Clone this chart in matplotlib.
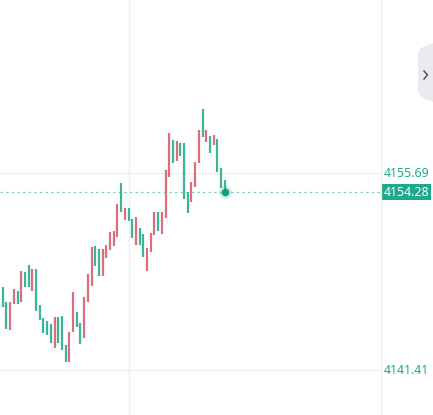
import matplotlib.pyplot as plt
import numpy as np
from matplotlib.patches import Rectangle, Polygon
from matplotlib.transforms import blended_transform_factory

# bar data (open / close)
opens = [4147.41, 4146.36, 4144.31, 4146.19, 4147.16, 4146.36, 4148.51, 4149.02, 4147.16, 4148.73,
         4146.12, 4145.18, 4144.98, 4144.75, 4143.01, 4145.27, 4145.32, 4143.22, 4142.01, 4144.19,
         4145.61, 4144.84, 4143.75, 4146.34, 4147.52, 4150.42, 4150.18, 4148.25, 4149.53, 4150.11,
         4150.42, 4151.05, 4154.99, 4152.28, 4153.15, 4152.36, 4150.47, 4151.70, 4151.27, 4148.61,
         4149.99, 4151.20, 4152.86, 4151.27, 4152.43, 4155.42, 4158.08, 4156.58, 4157.84, 4157.84,
         4154.33, 4153.59, 4154.70, 4156.39, 4160.33, 4157.96, 4158.37, 4157.72, 4158.15, 4156.03,
         4155.18]
closes = [4145.96, 4144.38, 4146.36, 4147.28, 4146.19, 4148.59, 4147.43, 4147.43, 4148.73, 4145.71,
          4145.04, 4144.09, 4143.95, 4143.37, 4145.25, 4143.39, 4142.86, 4141.99, 4144.19, 4147.06,
          4144.55, 4143.30, 4146.70, 4148.37, 4150.35, 4148.97, 4148.25, 4150.16, 4150.47, 4151.41,
          4151.49, 4153.44, 4152.89, 4153.15, 4152.23, 4150.98, 4152.52, 4150.47, 4149.62, 4150.25,
          4151.34, 4152.86, 4151.51, 4152.86, 4155.91, 4158.59, 4156.44, 4158.01, 4156.94, 4153.81,
          4152.81, 4155.06, 4156.51, 4158.81, 4158.28, 4158.81, 4157.12, 4158.44, 4155.78, 4154.58,
          4154.28]

grid_prices = [4155.69, 4141.41]
axis_labels = ['4155.69', '4141.41']
last_price = 4154.28
last_label = '4154.28'

W, H = 433, 415
up_color = '#dc6d7d'
down_color = '#3cb498'
teal = '#1ea88c'

fig = plt.figure(figsize=(W / 100, H / 100), dpi=100)
fig.patch.set_facecolor('white')

# plot area: x 0..380 px, full height
ax = fig.add_axes([0, 0, 380 / W, 1])
ax.set_xlim(-0.73, 101.97)
ax.set_ylim(4138.15, 4168.23)
ax.axis('off')

x = np.arange(len(opens))
o = np.array(opens)
c = np.array(closes)
up = c >= o
ax.vlines(x[up], o[up], c[up], color=up_color, lw=1.6, zorder=3)
ax.vlines(x[~up], o[~up], c[~up], color=down_color, lw=1.6, zorder=3)

# grid
for p in grid_prices:
    ax.axhline(p, color='#efeff1', lw=0.9, zorder=1)
ax.axvline(34.1, color='#efeff1', lw=0.9, zorder=1)

# last price line and dot
ax.axhline(last_price, color='#7fd0bf', lw=0.9, ls=(0, (2, 2.5)), zorder=2)
ax.scatter([x[-1]], [last_price], s=85, color=teal, alpha=0.2, zorder=4, lw=0)
ax.scatter([x[-1]], [last_price], s=30, color='#12a084', zorder=5, lw=0)

# price axis separator
fig.add_artist(plt.Line2D([380.5 / W, 380.5 / W], [0, 1], color='#efeff1', lw=0.9))

# price labels
trans = blended_transform_factory(ax.transAxes, ax.transData)
for p, lab in zip(grid_prices, axis_labels):
    ax.text(384 / 380, p, lab, transform=trans, color=teal, fontsize=8.9,
            family='Noto Sans', va='center', ha='left', clip_on=False)

y_last = (last_price - 4138.15) / (4168.23 - 4138.15)
fig.add_artist(Rectangle((380.5 / W, y_last - 8 / H), 50 / W, 16 / H,
                         transform=fig.transFigure, facecolor=teal, edgecolor='none'))
fig.text(384 / W, y_last, last_label, color='white', fontsize=8.9, family='Noto Sans',
         va='center', ha='left')

# collapse tab on the right
tab = [(433, 43), (421, 48), (418, 53), (418, 92), (421, 97), (433, 102)]
fig.add_artist(Polygon([(px / W, 1 - py / H) for px, py in tab], closed=True,
                       transform=fig.transFigure, facecolor='#ebebef', edgecolor='none'))
fig.add_artist(plt.Line2D([424 / W, 427.5 / W, 424 / W],
                          [1 - 71 / H, 1 - 75 / H, 1 - 79 / H], color='#555555', lw=1.1))

plt.savefig('out.png', dpi=100)
